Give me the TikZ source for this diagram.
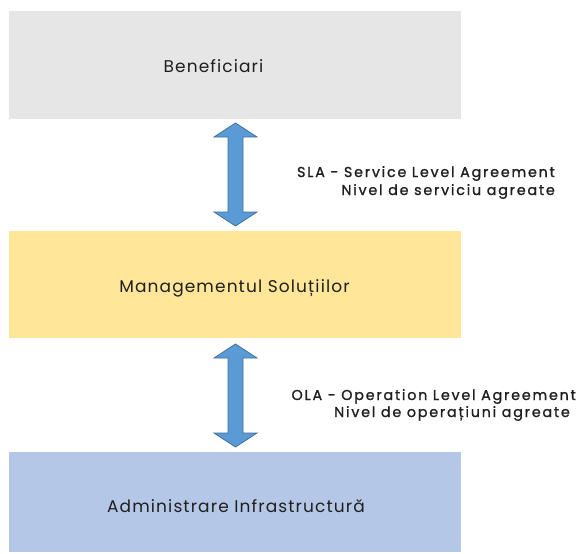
\documentclass[tikz,border=0pt]{standalone}
\usepackage{fontspec}
\setmainfont{Poppins}
\newfontfamily\boxfont[LetterSpace=6.5]{Poppins}
\newfontfamily\lblfont[LetterSpace=12.5,FakeBold=1.2]{Poppins}
\begin{document}
\begin{tikzpicture}[x=1pt,y=-1pt,
  box/.style={rectangle,inner sep=0pt,minimum width=452pt},
  boxtext/.style={inner sep=0pt,font=\boxfont\fontsize{17}{20}\selectfont,text=black!88},
  lbl/.style={anchor=base east,inner sep=0pt,font=\lblfont\fontsize{14.3}{16}\selectfont,text=black!88},
  darrow/.style={fill=arrowblue,draw=arrowedge,line width=0.8pt,line join=miter}]
\definecolor{arrowblue}{HTML}{5B9BD5}
\definecolor{arrowedge}{HTML}{41719C}
\definecolor{grayfill}{HTML}{E6E6E6}
\definecolor{yellowfill}{HTML}{FFE699}
\definecolor{bluefill}{HTML}{B4C7E7}
\useasboundingbox[fill=white] (0,0) rectangle (576,554);
\node[box,fill=grayfill,minimum height=108pt] (ben) at (235,65) {};
\node[box,fill=yellowfill,minimum height=107pt] (man) at (235,284.5) {};
\node[box,fill=bluefill,minimum height=100pt] (adm) at (235,502) {};
\node[boxtext,anchor=base] (bent) at (213.5,72) {Beneficiari};
\node[boxtext,anchor=base] (mant) at (234.5,292) {Managementul Soluțiilor};
\node[boxtext,anchor=base] (admt) at (236,512) {Administrare Infrastructură};
% arrow 1
\draw[darrow] (235.5,123) -- (257,137) -- (243,137) -- (243,212) -- (257,212) -- (235.5,226) -- (214,212) -- (228,212) -- (228,137) -- (214,137) -- cycle;
% arrow 2
\draw[darrow] (235.5,344) -- (257,358) -- (243,358) -- (243,433) -- (257,433) -- (235.5,447) -- (214,433) -- (228,433) -- (228,358) -- (214,358) -- cycle;
\node[lbl] (sla1) at (555,177) {SLA - Service Level Agreement};
\node[lbl] (sla2) at (555,195) {Nivel de serviciu agreate};
\node[lbl] (ola1) at (576,400) {OLA - Operation Level Agreement};
\node[lbl] (ola2) at (570,417) {Nivel de operațiuni agreate};
\end{tikzpicture}
\end{document}
